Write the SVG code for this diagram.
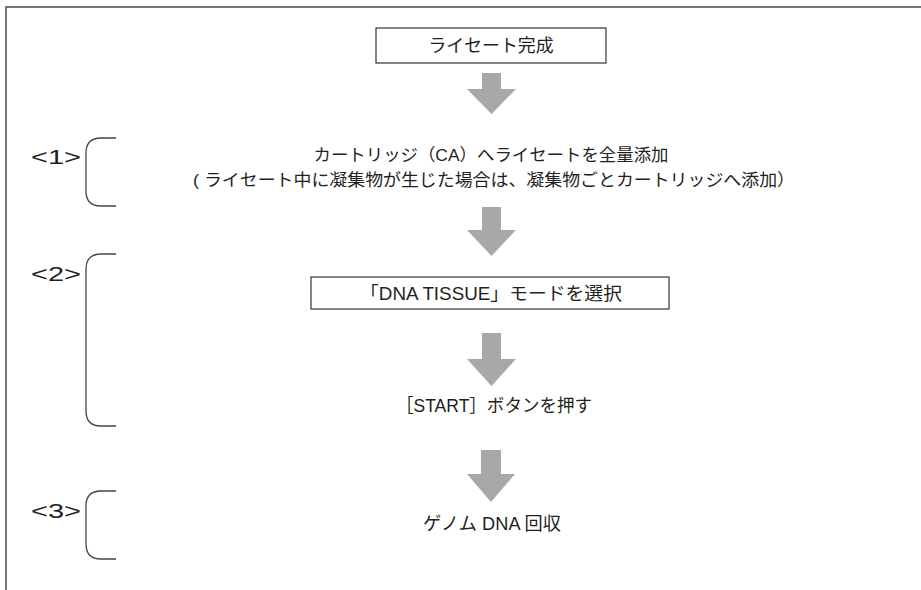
<svg xmlns="http://www.w3.org/2000/svg" width="921" height="590" viewBox="0 0 921 590">
<defs>
<style>
.frame{fill:none;stroke:#4a4a4a;stroke-width:1.5}
.box{fill:#fff;stroke:#333;stroke-width:1.2}
.brk{fill:none;stroke:#444;stroke-width:1.3}
.arr{fill:#a7a8aa}
.t{font-family:"Liberation Sans","Noto Sans CJK JP",sans-serif;fill:#231f20;text-anchor:middle}
.lab{font-family:"Liberation Sans",sans-serif;fill:#231f20;font-size:21px}
</style>
</defs>
<rect width="921" height="590" fill="#fff"/>
<path class="frame" d="M6,590 V7 H921"/>
<g id="connectors">
<path class="arr" d="M482,73 H501 V89 H516 L491.5,114 L467,89 H482 Z"/>
<path class="arr" d="M482,207 H501 V230 H516 L491.5,256 L467,230 H482 Z"/>
<path class="arr" d="M482,333 H501 V359 H516 L491.5,386 L467,359 H482 Z"/>
<path class="arr" d="M481,450 H501 V474 H515 L491,502 L467,474 H481 Z"/>
</g>
<g id="n1">
<rect class="box" x="376" y="28" width="230" height="35"/>
<text class="t" x="491" y="52" font-size="18" textLength="125" lengthAdjust="spacingAndGlyphs">ライセート完成</text>
</g>
<g id="n2">
<text class="t" x="491" y="161" font-size="17" textLength="355" lengthAdjust="spacingAndGlyphs">カートリッジ（CA）へライセートを全量添加</text>
<text class="t" x="494" y="186" font-size="17" textLength="602" lengthAdjust="spacingAndGlyphs">( ライセート中に凝集物が生じた場合は、凝集物ごとカートリッジへ添加）</text>
</g>
<g id="n3">
<rect class="box" x="311" y="277" width="358" height="32"/>
<text class="t" x="491" y="300" font-size="18" textLength="262" lengthAdjust="spacingAndGlyphs">「DNA TISSUE」モードを選択</text>
</g>
<g id="n4">
<text class="t" x="494" y="412" font-size="18" textLength="196" lengthAdjust="spacingAndGlyphs">［START］ボタンを押す</text>
</g>
<g id="n5">
<text class="t" x="492" y="530" font-size="18" textLength="138" lengthAdjust="spacingAndGlyphs">ゲノム DNA 回収</text>
</g>
<g id="b1">
<text class="lab" x="31" y="164" textLength="50" lengthAdjust="spacingAndGlyphs">&lt;1&gt;</text>
<path class="brk" d="M116,138 H101 Q86,138 86,153 V191 Q86,206 101,206 H116"/>
</g>
<g id="b2">
<text class="lab" x="31" y="281" textLength="50" lengthAdjust="spacingAndGlyphs">&lt;2&gt;</text>
<path class="brk" d="M116,254 H101 Q86,254 86,269 V411 Q86,426 101,426 H116"/>
</g>
<g id="b3">
<text class="lab" x="31" y="518" textLength="50" lengthAdjust="spacingAndGlyphs">&lt;3&gt;</text>
<path class="brk" d="M116,491 H101 Q86,491 86,506 V544 Q86,559 101,559 H116"/>
</g>
</svg>
